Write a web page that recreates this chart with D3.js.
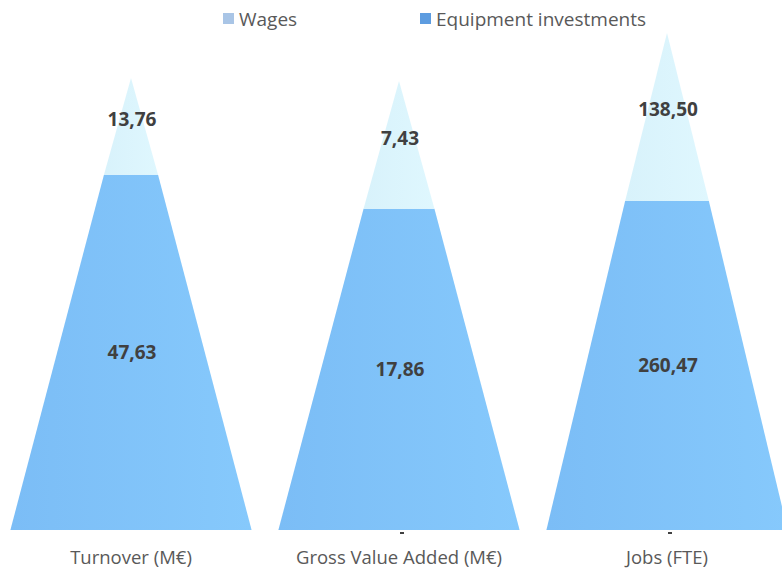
<!DOCTYPE html>
<html>
<head>
<meta charset="utf-8">
<script src="https://cdn.jsdelivr.net/npm/d3@7"></script>
<style>
  body { margin: 0; background: #fff; }
  svg { display: block; font-family: "Open Sans", "Noto Sans", sans-serif; }
</style>
</head>
<body>
<div id="chart"></div>
<script>
// data
const categories = ["Turnover (M€)", "Gross Value Added (M€)", "Jobs (FTE)"];
const seriesNames = ["Wages", "Equipment investments"];
const equipment = [47.63, 17.86, 260.47];
const wages = [13.76, 7.43, 138.50];

// layout
const width = 782, height = 572;
const baseY = 530;
const apexY = [72, 75, 26]; // each pyramid is scaled on its own
const tipY = [78, 81, 33];  // visible tip (perspective cuts the top a bit)
const fmt = d => d.toFixed(2).replace(".", ",");

const svg = d3.select("#chart").append("svg")
  .attr("width", width)
  .attr("height", height);

const defs = svg.append("defs");
const grads = [
  { id: "gWages", c0: "#d8f2fb", c1: "#dff7fe" },
  { id: "gEquip", c0: "#7bbdf6", c1: "#86c9fc" }
];
grads.forEach(g => {
  const lg = defs.append("linearGradient").attr("id", g.id)
    .attr("x1", "0%").attr("x2", "100%").attr("y1", "0%").attr("y2", "0%");
  lg.append("stop").attr("offset", "0%").attr("stop-color", g.c0);
  lg.append("stop").attr("offset", "100%").attr("stop-color", g.c1);
});

const x = d3.scaleBand()
  .domain(categories)
  .range([-3, 801])
  .paddingInner(0.1)
  .paddingOuter(0.05);

// legend
const legendItems = [
  { name: seriesNames[0], color: "#a9c5e6", x: 223 },
  { name: seriesNames[1], color: "#5d9ce0", x: 420 }
];
const lg = svg.append("g");
legendItems.forEach(d => {
  lg.append("rect").attr("x", d.x).attr("y", 13).attr("width", 11).attr("height", 11).attr("fill", d.color);
  lg.append("text").attr("x", d.x + 16).attr("y", 26)
    .attr("font-size", 19).attr("fill", "#595959").text(d.name);
});

categories.forEach((cat, i) => {
  const total = equipment[i] + wages[i];
  const y = d3.scaleLinear().domain([0, total]).range([baseY, apexY[i]]);
  const cx = x(cat) + x.bandwidth() / 2;
  const half = x.bandwidth() / 2;
  // half-width of the pyramid at a given value
  const hw = v => half * (1 - v / total);

  const g = svg.append("g");

  // equipment (bottom trapezoid)
  const s = equipment[i];
  g.append("path")
    .attr("d", `M${cx - half},${y(0)} L${cx + half},${y(0)} L${cx + hw(s)},${y(s)} L${cx - hw(s)},${y(s)} Z`)
    .attr("fill", "url(#gEquip)");

  // wages (top triangle)
  g.append("path")
    .attr("d", `M${cx - hw(s)},${y(s)} L${cx + hw(s)},${y(s)} L${cx},${tipY[i]} Z`)
    .attr("fill", "url(#gWages)");

  // tick mark under the pyramid
  if (i > 0) {
    g.append("rect").attr("x", cx + 1).attr("y", baseY + 2).attr("width", 4).attr("height", 2).attr("fill", "#404040");
  }

  // value labels
  g.append("text")
    .attr("x", cx + 1).attr("y", y(s / 2) + 7)
    .attr("text-anchor", "middle").attr("font-size", 19).attr("font-weight", "bold")
    .attr("fill", "#404040").text(fmt(equipment[i]));
  g.append("text")
    .attr("x", cx + 1).attr("y", y(s + wages[i] / 2) + 3)
    .attr("text-anchor", "middle").attr("font-size", 19).attr("font-weight", "bold")
    .attr("fill", "#404040").text(fmt(wages[i]));

  // category label
  svg.append("text")
    .attr("x", cx).attr("y", 564)
    .attr("text-anchor", "middle").attr("font-size", 18.5)
    .attr("fill", "#595959").text(cat);
});
</script>
</body>
</html>
